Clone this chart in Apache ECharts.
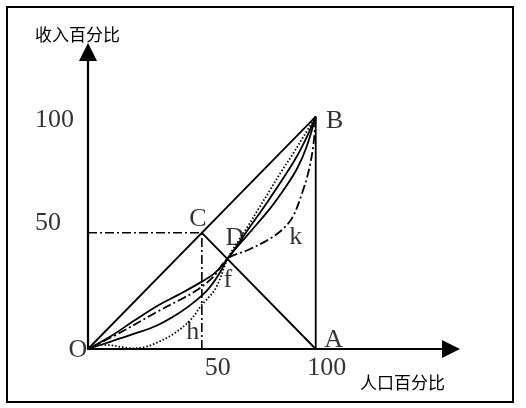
<!DOCTYPE html>
<html>
<head>
<meta charset="utf-8">
<script src="https://cdn.jsdelivr.net/npm/echarts@6/dist/echarts.min.js"></script>
<style>
html, body { margin: 0; padding: 0; background: #fff; }
#main { width: 526px; height: 408px; }
</style>
</head>
<body>
<div id="main"></div>
<script>
// axis ticks shown as text
var xTicks = [50, 100];
var yTicks = [50, 100];

// named points: [name, x, y]
var points = [
  ['O', 0, 0],
  ['A', 100, 0],
  ['B', 100, 100],
  ['C', 50, 50],
  ['D', 61.4, 39]
];

// straight lines
var lineOB = [[0, 0], [100, 100]];
var lineBA = [[100, 100], [100, 0]];
var lineCA = [[50, 50], [100, 0]];
var guideC = [[0, 50], [50, 50], [50, 0]];

// lorenz curves, all through D
var curveUpper = [[0, 0], [10, 5.5], [20, 12], [30, 18.3], [40, 23.5], [50, 29], [56, 33], [61.4, 39],
  [70, 51], [80, 65], [90, 80], [95, 89], [100, 100]];
var curveLower = [[0, 0], [10, 3.2], [20, 6.5], [30, 10], [40, 15.5], [47, 20.5], [53, 26], [58, 33], [61.4, 39],
  [70, 49], [80, 60.5], [87, 70], [92, 78], [96, 87], [100, 100]];
var curveK = [[0, 0], [15, 7.5], [29.4, 15.5], [40, 21], [47, 24.8], [55, 31], [61.4, 39],
  [70, 42.5], [80, 47.5], [86, 52], [90, 57], [94, 67], [97, 77], [99, 88], [100, 100]];
var curveDot = [[0, 0], [5, 1.8], [10, 1.6], [15, 0.8], [20, 0.3], [25, 0.9], [30, 2.6], [38, 6.8], [45, 12.5],
  [50, 19], [56, 26], [61.4, 39], [66, 46.5], [70, 52.5], [75, 60.5], [80, 68.5], [85, 76.5], [90, 84], [95, 92], [100, 100]];

// text label offsets (pixels), by name
var labelOffset = {
  O: [-10, 1], A: [18, -9], B: [19, 5], C: [-4, -14], D: [7, -20]
};

var serif = 'Liberation Serif';
var myChart = echarts.init(document.getElementById('main'));

function plain(data, type, width) {
  return {
    type: 'line', data: data, showSymbol: false, silent: true,
    lineStyle: { color: '#000', width: width || 1.8, type: type || 'solid' }
  };
}
function smooth(data, type) {
  var s = plain(data, type, 1.8);
  s.smooth = 0.35;
  return s;
}
var dashDot = [9, 3, 2, 3];

var letters = points.map(function (p) {
  return {
    value: [p[1], p[2]],
    label: { formatter: p[0], offset: labelOffset[p[0]] }
  };
});
letters.push({ value: [61.4, 39], label: { formatter: 'f', offset: [0, 22] } });
letters.push({ value: [86, 52], label: { formatter: 'k', offset: [12, 9] } });
letters.push({ value: [50, 0], label: { formatter: 'h', offset: [-9, -17] } });

var tickTexts = [];
xTicks.forEach(function (v) {
  tickTexts.push({ value: [v, 0], label: { formatter: String(v), offset: v === 50 ? [16, 19] : [11, 19] } });
});
yTicks.forEach(function (v) {
  tickTexts.push({ value: [0, v], label: { formatter: String(v), align: 'left', offset: v === 50 ? [-53, -10] : [-53, 4] } });
});

var option = {
  animation: false,
  grid: { left: 88, right: 75, top: 52, bottom: 59 },
  xAxis: {
    type: 'value', min: 0, max: 159.4,
    axisLine: { lineStyle: { color: '#000', width: 2.2 }, symbol: ['none', 'triangle'], symbolSize: [18, 18] },
    axisTick: { show: false }, axisLabel: { show: false }, splitLine: { show: false }
  },
  yAxis: {
    type: 'value', min: 0, max: 127.8,
    axisLine: { lineStyle: { color: '#000', width: 2.2 }, symbol: ['none', 'triangle'], symbolSize: [18, 18] },
    axisTick: { show: false }, axisLabel: { show: false }, splitLine: { show: false }
  },
  graphic: [
    { type: 'rect', shape: { x: 7, y: 7, width: 506, height: 395 },
      style: { fill: 'none', stroke: '#000', lineWidth: 2 }, z: 0 },
    { type: 'text', left: 35, top: 26,
      style: { text: '收入百分比', font: '17px "Noto Sans CJK SC"', fill: '#000' } },
    { type: 'text', left: 360, top: 374,
      style: { text: '人口百分比', font: '17px "Noto Sans CJK SC"', fill: '#000' } }
  ],
  series: [
    plain(lineOB), plain(lineBA), plain(lineCA),
    plain(guideC, dashDot, 1.6),
    smooth(curveUpper), smooth(curveLower),
    smooth(curveK, dashDot), smooth(curveDot, [1.5, 2]),
    {
      type: 'scatter', symbolSize: 0, silent: true, data: letters,
      label: { show: true, position: 'inside', color: '#000', fontFamily: serif, fontSize: 26 }
    },
    {
      type: 'scatter', symbolSize: 0, silent: true, data: tickTexts,
      label: { show: true, position: 'inside', color: '#000', fontFamily: serif, fontSize: 26 }
    }
  ]
};
myChart.setOption(option);
</script>
</body>
</html>
